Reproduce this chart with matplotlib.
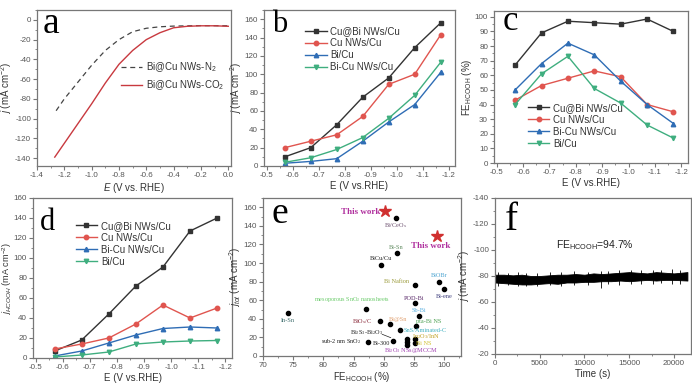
import matplotlib

matplotlib.use("Agg")
import matplotlib.pyplot as plt  # noqa: E402
from matplotlib.ticker import AutoMinorLocator, MultipleLocator  # noqa: E402

plt.rcParams["font.family"] = ["Liberation Sans", "DejaVu Sans"]
plt.rcParams["mathtext.fontset"] = "custom"
plt.rcParams["mathtext.rm"] = "Liberation Sans"
plt.rcParams["mathtext.it"] = "Liberation Sans:italic"
plt.rcParams["mathtext.default"] = "regular"
plt.rcParams["axes.unicode_minus"] = False

# ---- panel a: LSV curves
lsv_n2_e = [-1.26, -1.2, -1.1, -1.0, -0.9, -0.8, -0.7, -0.6, -0.5, -0.4, -0.2, 0.0]
lsv_n2_j = [-92, -80, -63, -46, -31, -20, -12, -8.5, -7, -6.3, -5.8, -6]
lsv_co2_e = [-1.27, -1.2, -1.1, -1.0, -0.9, -0.8, -0.7, -0.6, -0.5, -0.4, -0.3, -0.2, -0.1, 0.0]
lsv_co2_j = [-139, -125, -105, -85, -64, -45, -31, -20, -13, -8, -6.5, -6, -6, -6.5]

# ---- panels b, c, d share the potentials
potential = [-0.57, -0.67, -0.77, -0.87, -0.97, -1.07, -1.17]

j_cubi = [10, 20, 45, 75, 96, 129, 156]
j_cunw = [20, 27, 34, 54, 89, 100, 143]
j_bicu = [3, 5, 8, 27, 48, 67, 102]
j_bicunw = [4, 9, 18, 31, 52, 77, 113]

fe_cubi = [67, 89, 97, 96, 95, 98.5, 90]
fe_cunw = [43, 53, 58, 63, 59, 40, 35]
fe_bicunw = [50, 68, 82, 74, 56, 40, 27]
fe_bicu = [40, 61, 73, 51, 41, 26, 17]

jh_cubi = [7, 18, 44, 72, 91, 127, 140]
jh_cunw = [9, 14, 20, 34, 53, 40, 50]
jh_bicunw = [2, 7, 15, 23, 29.5, 31, 30]
jh_bicu = [1, 3, 6, 14, 16, 17, 17.5]

# ---- panel e: literature comparison
lit_fe = [92.0, 89.5, 92.15, 99.1, 100.0, 95.1, 95.1, 87.05, 74.1, 95.9, 89.3, 91.1,
          95.35, 92.65, 91.6, 87.4, 93.8, 93.8, 93.8, 95.1, 95.1]
lit_j = [149, 98, 111, 80, 72, 76, 57, 51, 46, 43, 37.5, 34, 32.5, 27.5, 16.6, 15.1,
         18, 15, 12, 18.7, 14.4]
this_fe = [90.2, 98.8]
this_j = [156, 129]
lit_names = ["Bi/CeO$_x$", "Bi-Sn", "BiCu/Cu", "BiOBr", "Bi-ene", "Bi Nafion", "POD-Bi",
             "mesoporous SnO$_2$ nanosheets", "In-Sn", "Sb-Bi", "BiO$_x$/C", "Bi@Sn",
             "pta-Bi NS", "SnS/Aminated-C", "Bi$_2$S$_3$-Bi$_2$O$_3$", "sub-2 nm SnO$_2$",
             "Bi-300", "In$_2$O$_3$/InN", "Bi NS", "Bi$_2$O$_3$ NSs@MCCM"]
lit_name_x = [91.9, 92.1, 89.5, 99.1, 100.0, 92.1, 95.1, 84.7, 74.15, 95.85, 86.4, 92.3,
              97.5, 96.9, 87.2, 83.0, 89.7, 97.0, 96.6, 94.6]
lit_name_y = [140.5, 117, 105, 87, 64.5, 80, 61.6, 61.3, 37.8, 48.6, 37.5, 39.6, 37.1,
              27.4, 25.6, 15.1, 13, 20.5, 13.3, 5.4]
lit_colors = ["#6b4f6e", "#5f8a5f", "#222222", "#4aa3d0", "#3a3a7a", "#9a9a3a", "#5a2a6a",
              "#6acb6a", "#3a6a6a", "#5ab0e0", "#8a2a3a", "#e0a070", "#4aa050", "#40b0c0",
              "#222222", "#222222", "#222222", "#c0a020", "#d0c030", "#a040b0"]

# ---- panel f: stability trace (envelope of the noisy band + spikes)
stab_t = [0, 1000, 2000, 3000, 4000, 5000, 6000, 7000, 8000, 9000, 10000, 11000,
          12000, 13000, 14000, 15000, 16000, 17000, 18000, 19000, 20000, 21500]
stab_top = [-81, -81, -80.5, -81, -80, -80, -80.5, -81, -81, -81.5, -81, -82,
            -81.5, -82, -82.5, -83, -82.5, -82, -83, -82.5, -82, -83]
stab_bot = [-75, -74.5, -74, -73.5, -73.5, -74, -74.5, -74, -75, -75, -75.5, -75.5,
            -76, -76, -76.5, -76, -76.5, -77, -76.5, -77, -77, -76.5]
spike_t = [300, 1400, 2600, 3500, 4700, 6200, 7400, 8800, 10400, 11800, 12600, 13900,
           15200, 16300, 17700, 18600, 19800, 20700]
spike_lo = [-72, -73, -72.5, -72, -72.5, -73, -72.5, -73, -73, -70.5, -73.5, -73,
            -74, -73.5, -74, -74.5, -74, -74]
spike_hi = [-83, -82.5, -83, -82.5, -82, -83, -83, -83.5, -83, -84, -84, -84.5,
            -85, -84.5, -85, -84.5, -85.5, -85]

BLACK = "#333333"
RED = "#e0554f"
BLUE = "#2f6db5"
GREEN = "#3fae7f"
TICK_C = "#555555"
LAB = dict(fontsize=7, color="#333333")

W, H = 692, 383
fig = plt.figure(figsize=(W / 100, H / 100), dpi=100)


def make_ax(l, r, t, b):
    ax = fig.add_axes([l / W, (H - b) / H, (r - l) / W, (b - t) / H])
    for s in ax.spines.values():
        s.set_color("#777777")
        s.set_linewidth(0.9)
    ax.tick_params(which="both", direction="out", colors="#777777", labelcolor=TICK_C,
                   labelsize=5.8, pad=1.5)
    ax.tick_params(which="major", length=2.8, width=0.8)
    ax.tick_params(which="minor", length=1.6, width=0.6)
    ax.xaxis.set_minor_locator(AutoMinorLocator(2))
    ax.yaxis.set_minor_locator(AutoMinorLocator(2))
    return ax


def panel_letter(ax, letter, size, x, y):
    ax.text(x, y, letter, transform=ax.transAxes, fontsize=size, va="baseline", ha="left",
            family="Liberation Serif", color="black")


def potential_axis(ax, ymax, ystep):
    ax.set_xlim(-0.49, -1.225)
    ax.set_xticks([-0.5, -0.6, -0.7, -0.8, -0.9, -1.0, -1.1, -1.2])
    ax.set_xticklabels(["-0.5", "-0.6", "-0.7", "-0.8", "-0.9", "-1.0", "-1.1", "-1.2"])
    ax.set_ylim(0, ymax)
    ax.yaxis.set_major_locator(MultipleLocator(ystep))
    ax.set_xlabel("E (V vs.RHE)", labelpad=1.5, **LAB)


mk = dict(markersize=3.2, linewidth=1.0)
leg = dict(frameon=False, fontsize=7, handlelength=2.2, handletextpad=0.4,
           labelspacing=0.2, labelcolor="#333333", borderpad=0.2)

# ---------------- a
ax = make_ax(37, 231, 10, 166)
ax.plot(lsv_n2_e, lsv_n2_j, ls=(0, (4, 3)), color="#444444", lw=0.9, label="Bi@Cu NWs-N$_2$")
ax.plot(lsv_co2_e, lsv_co2_j, color="#c8393f", lw=1.0, label="Bi@Cu NWs-CO$_2$")
ax.set_xlim(-1.4, 0.02)
ax.set_ylim(-148, 10)
ax.yaxis.set_major_locator(MultipleLocator(20))
ax.set_xticks([-1.4, -1.2, -1.0, -0.8, -0.6, -0.4, -0.2, 0.0])
ax.set_xticklabels(["-1.4", "-1.2", "-1.0", "-0.8", "-0.6", "-0.4", "-0.2", "0.0"])
ax.set_xlabel("$\\it{E}$ (V vs. RHE)", labelpad=1.5, **LAB)
ax.set_ylabel("$\\it{j}$ (mA cm$^{-2}$)", labelpad=0.5, **LAB)
ax.legend(loc="upper right", bbox_to_anchor=(1.0, 0.72), labelspacing=0.45,
          **{k: v for k, v in leg.items() if k != "labelspacing"})
panel_letter(ax, "a", 27, 0.031, 0.853)

# ---------------- b
ax = make_ax(264, 455, 10, 166)
ax.plot(potential, j_cubi, "s-", color=BLACK, label="Cu@Bi NWs/Cu", **mk)
ax.plot(potential, j_cunw, "o-", color=RED, label="Cu NWs/Cu", **mk)
ax.plot(potential, j_bicu, "^-", color=BLUE, label="Bi/Cu", **mk)
ax.plot(potential, j_bicunw, "v-", color=GREEN, label="Bi-Cu NWs/Cu", **mk)
potential_axis(ax, 170, 20)
ax.set_ylabel("$\\it{j}$ (mA cm$^{-2}$)", labelpad=0.5, **LAB)
ax.legend(loc="upper left", bbox_to_anchor=(0.18, 0.94), **leg)
panel_letter(ax, "b", 22, 0.042, 0.859)

# ---------------- c
ax = make_ax(494, 688, 11, 163)
ax.plot(potential, fe_cubi, "s-", color=BLACK, label="Cu@Bi NWs/Cu", **mk)
ax.plot(potential, fe_cunw, "o-", color=RED, label="Cu NWs/Cu", **mk)
ax.plot(potential, fe_bicunw, "^-", color=BLUE, label="Bi-Cu NWs/Cu", **mk)
ax.plot(potential, fe_bicu, "v-", color=GREEN, label="Bi/Cu", **mk)
potential_axis(ax, 104, 10)
ax.set_ylabel("FE$_{HCOOH}$ (%)", labelpad=0.5, **LAB)
ax.legend(loc="lower left", bbox_to_anchor=(0.14, 0.05), **leg)
panel_letter(ax, "c", 25, 0.046, 0.875)

# ---------------- d
ax = make_ax(33, 232, 198, 358)
ax.plot(potential, jh_cubi, "s-", color=BLACK, label="Cu@Bi NWs/Cu", **mk)
ax.plot(potential, jh_cunw, "o-", color=RED, label="Cu NWs/Cu", **mk)
ax.plot(potential, jh_bicunw, "^-", color=BLUE, label="Bi-Cu NWs/Cu", **mk)
ax.plot(potential, jh_bicu, "v-", color=GREEN, label="Bi/Cu", **mk)
potential_axis(ax, 160, 20)
ax.set_ylabel("$\\it{j}_{HCOOH}$ (mA cm$^{-2}$)", labelpad=0, fontsize=6.6, color="#333333")
ax.legend(loc="upper left", bbox_to_anchor=(0.18, 0.9), **leg)
panel_letter(ax, "d", 22, 0.035, 0.80)

# ---------------- e
ax = make_ax(263, 461, 198, 356)
ax.plot(lit_fe, lit_j, "o", color="black", markersize=3, zorder=3)
ax.plot(this_fe, this_j, "*", color="#d0302f", markersize=9, zorder=4)
for name, x, y, c in zip(lit_names, lit_name_x, lit_name_y, lit_colors):
    ax.text(x, y, name, fontsize=4.5, color=c, ha="center", va="center",
            family="Liberation Serif", math_fontfamily="dejavuserif")
ax.annotate("", xy=(lit_fe[14], lit_j[14] + 2), xytext=(89.3, 24.5),
            arrowprops=dict(arrowstyle="-", color="#222222", lw=0.5))
ax.text(this_fe[0] - 0.8, this_j[0] - 1, "This work", fontsize=6.5, fontweight="bold",
        color="#b0309e", ha="right", va="center", family="Liberation Serif")
ax.text(this_fe[1] - 1.0, this_j[1] - 11, "This work", fontsize=6.5, fontweight="bold",
        color="#b0309e", ha="center", va="center", family="Liberation Serif")
ax.set_xlim(70, 102.8)
ax.set_ylim(0, 170)
ax.xaxis.set_major_locator(MultipleLocator(5))
ax.yaxis.set_major_locator(MultipleLocator(20))
ax.set_xlabel("FE$_{HCOOH}$ (%)", labelpad=0.8, **LAB)
ax.set_ylabel("$\\it{j}_{tot}$ (mA cm$^{-2}$)", labelpad=0.5, **LAB)
panel_letter(ax, "e", 27, 0.045, 0.842)

# ---------------- f
ax = make_ax(495, 691, 198, 354)
ax.fill_between(stab_t, stab_top, stab_bot, color="black", lw=0.6)
ax.vlines(spike_t, spike_lo, spike_hi, color="black", lw=0.6)
ax.set_xlim(0, 21900)
ax.set_ylim(-20, -140)
ax.xaxis.set_major_locator(MultipleLocator(5000))
ax.yaxis.set_major_locator(MultipleLocator(20))
ax.text(11200, -104, "FE$_{HCOOH}$=94.7%", fontsize=7.5, color="#222222", ha="center",
        va="center")
ax.set_xlabel("Time (s)", labelpad=1.5, **LAB)
ax.set_ylabel("$\\it{j}$ (mA cm$^{-2}$)", labelpad=0.5, **LAB)
panel_letter(ax, "f", 28, 0.05, 0.795)

fig.savefig("out.png", dpi=100, facecolor="white")
